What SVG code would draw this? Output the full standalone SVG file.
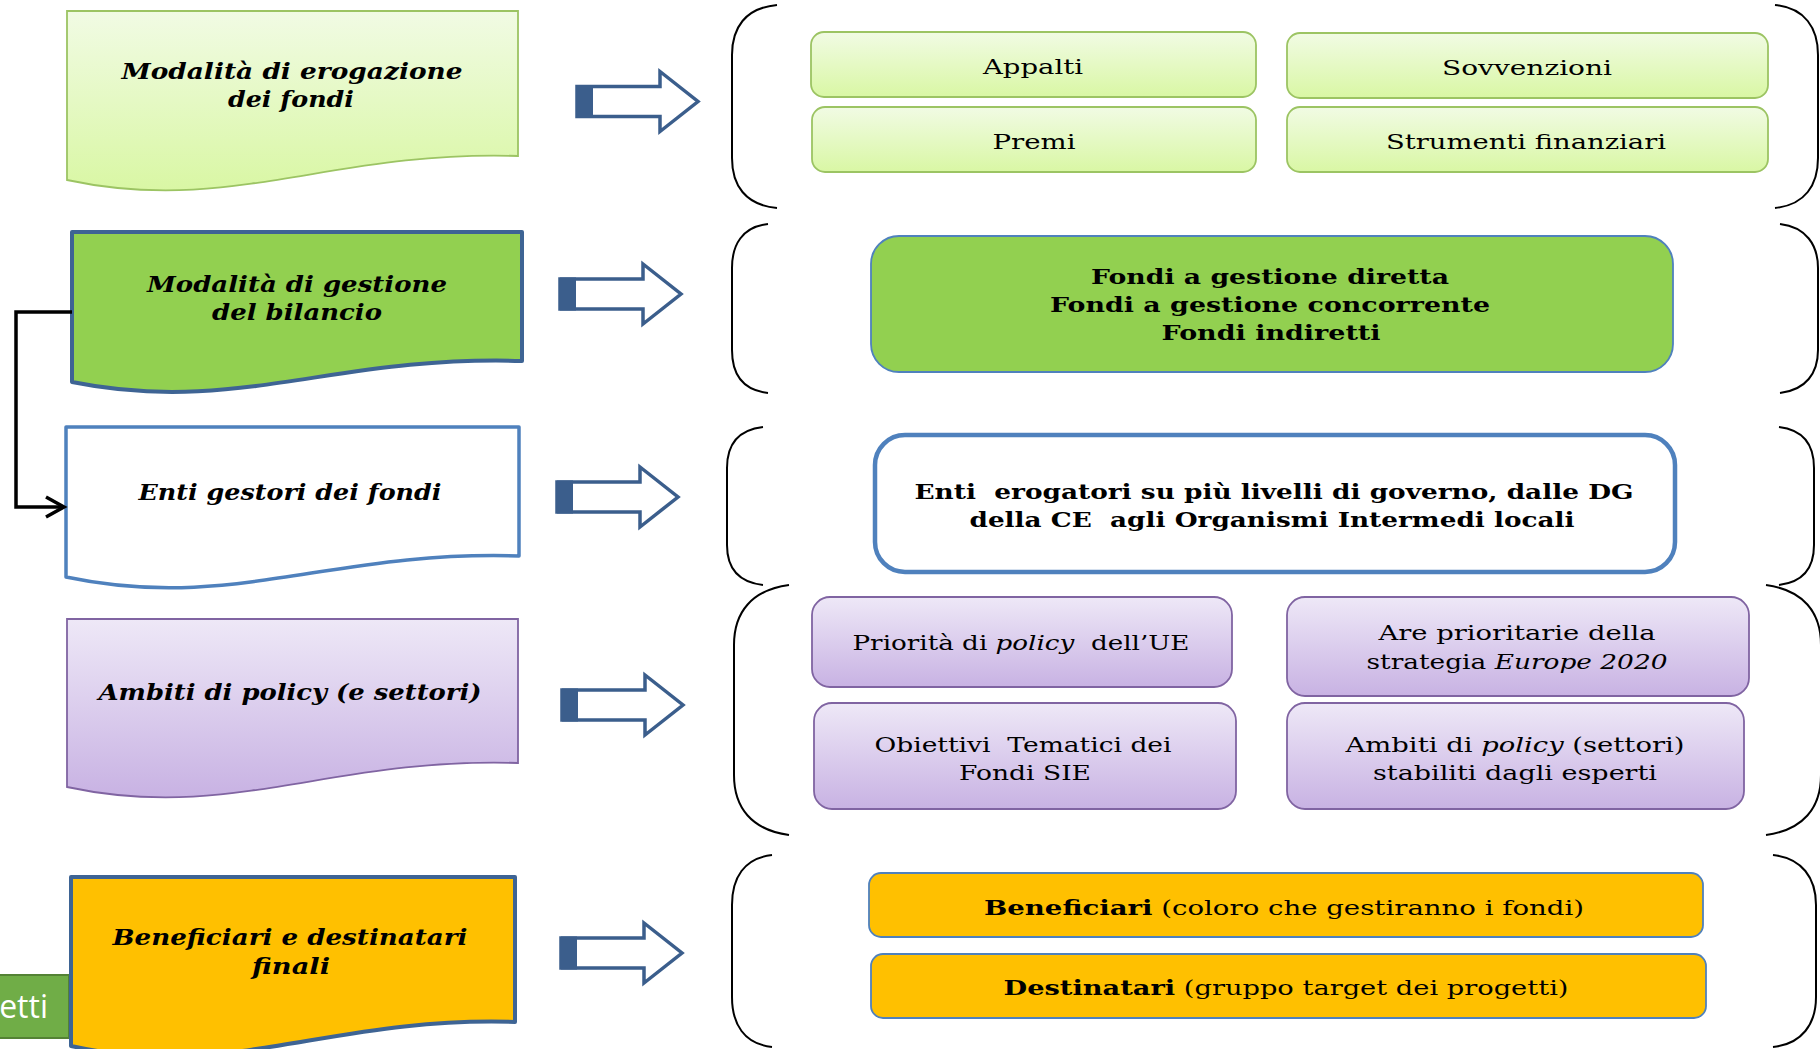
<svg xmlns="http://www.w3.org/2000/svg" xmlns:xlink="http://www.w3.org/1999/xlink" width="1820" height="1049" viewBox="0 0 1820 1049">
<defs>
<linearGradient id="gGreen" x1="0" y1="0" x2="0" y2="1"><stop offset="0" stop-color="#f1fbe4"/><stop offset="1" stop-color="#d9f7a4"/></linearGradient>
<linearGradient id="gPurple" x1="0" y1="0" x2="0" y2="1"><stop offset="0" stop-color="#eee8f7"/><stop offset="1" stop-color="#c8b2e3"/></linearGradient>
<g id="blk">
<polygon points="0,-15 83,-15 83,-30 121,0 83,30 83,15 0,15" fill="#ffffff" stroke="#3b5e8c" stroke-width="3.5" stroke-linejoin="miter"/>
<rect x="0" y="-16.5" width="16" height="33" fill="#3b5e8c"/>
</g>
</defs>
<style>
text{font-family:"DejaVu Serif","Liberation Serif",serif;fill:#000;white-space:pre}
.ln{font-size:22px;font-weight:bold;font-style:italic;text-anchor:middle}
.rt{font-size:21px;text-anchor:middle}
.bd{font-weight:bold}
.it{font-style:italic}
.br{fill:none;stroke:#000;stroke-width:2}
.gbox{fill:url(#gGreen);stroke:#9cc463;stroke-width:1.8}
.pbox{fill:url(#gPurple);stroke:#8064a2;stroke-width:1.8}
.obox{fill:#ffc000;stroke:#4f81bd;stroke-width:1.8}
</style>
<rect width="1820" height="1049" fill="#ffffff"/>

<!-- partial green box at bottom-left -->
<g id="node-progetti">
<rect x="-5" y="975" width="74" height="63" fill="#70ad47" stroke="#548235" stroke-width="2"/>
<text x="48" y="1018" style="font-family:'Open Sans','Liberation Sans',sans-serif;font-size:32px;fill:#ffffff;text-anchor:end">etti</text>
</g>

<!-- left nodes -->
<g id="node-erogazione">
<path d="M67,11 H518 V156 C330,150 230,215 67,180 Z" fill="url(#gGreen)" stroke="#9cc463" stroke-width="1.8"/>
<text class="ln" x="292" y="79" textLength="341" lengthAdjust="spacingAndGlyphs">Modalità di erogazione</text>
<text class="ln" x="291" y="107" textLength="126" lengthAdjust="spacingAndGlyphs">dei fondi</text>
</g>
<g id="node-gestione">
<path d="M72,232 H522 V361 C334,355 235,415 72,382 Z" fill="#92d050" stroke="#3e6494" stroke-width="4" stroke-linejoin="round"/>
<text class="ln" x="297" y="292" textLength="300" lengthAdjust="spacingAndGlyphs">Modalità di gestione</text>
<text class="ln" x="297" y="320" textLength="170" lengthAdjust="spacingAndGlyphs">del bilancio</text>
</g>
<g id="node-enti">
<path d="M66,427 H519 V556 C330,550 231,612 66,577 Z" fill="#ffffff" stroke="#4f81bd" stroke-width="3.5" stroke-linejoin="round"/>
<text class="ln" x="290" y="500" textLength="303" lengthAdjust="spacingAndGlyphs">Enti gestori dei fondi</text>
</g>
<g id="node-ambiti">
<path d="M67,619 H518 V763 C330,757 230,822 67,787 Z" fill="url(#gPurple)" stroke="#8064a2" stroke-width="1.8"/>
<text class="ln" x="290" y="700" textLength="383" lengthAdjust="spacingAndGlyphs">Ambiti di policy (e settori)</text>
</g>
<g id="node-beneficiari">
<path d="M71,877 H515 V1022 C330,1016 230,1081 71,1046 Z" fill="#ffc000" stroke="#3e6494" stroke-width="4" stroke-linejoin="round"/>
<text class="ln" x="290" y="945" textLength="355" lengthAdjust="spacingAndGlyphs">Beneficiari e destinatari</text>
<text class="ln" x="291" y="974" textLength="78" lengthAdjust="spacingAndGlyphs">finali</text>
</g>

<!-- connectors -->
<g id="connectors">
<path d="M72,312 H16 V507 H62" fill="none" stroke="#000" stroke-width="3.5"/>
<polyline points="46,497 64,507 46,517" fill="none" stroke="#000" stroke-width="3.5"/>
<use xlink:href="#blk" x="577" y="101.5"/>
<use xlink:href="#blk" x="560" y="294"/>
<use xlink:href="#blk" x="557" y="497"/>
<use xlink:href="#blk" x="562" y="705"/>
<use xlink:href="#blk" x="561" y="953"/>
</g>

<!-- brackets -->
<g id="brackets">
<path class="br" d="M777,5 C745,8 732,28 732,55 V158 C732,185 745,205 777,208"/>
<path class="br" d="M1775,5 C1805,8 1818,28 1818,55 V158 C1818,185 1805,205 1775,208"/>
<path class="br" d="M768,224 C742,227 732,245 732,268 V350 C732,373 742,390 768,393"/>
<path class="br" d="M1780,224 C1806,227 1818,245 1818,268 V350 C1818,373 1806,390 1780,393"/>
<path class="br" d="M763,427 C737,430 727,446 727,468 V545 C727,567 737,582 763,585"/>
<path class="br" d="M1779,427 C1804,430 1814,446 1814,468 V545 C1814,567 1804,582 1779,585"/>
<path class="br" d="M789,585 C752,590 734,612 734,645 V775 C734,808 752,830 789,835"/>
<path class="br" d="M1766,585 C1803,590 1821,612 1821,645 V775 C1821,808 1803,830 1766,835"/>
<path class="br" d="M772,855 C744,858 732,878 732,905 V997 C732,1024 744,1044 772,1047"/>
<path class="br" d="M1773,855 C1802,858 1816,878 1816,905 V997 C1816,1024 1802,1044 1773,1047"/>
</g>

<!-- right nodes -->
<g id="node-appalti">
<rect class="gbox" x="811" y="32" width="445" height="65" rx="13"/>
<text class="rt" x="1033" y="74" textLength="100" lengthAdjust="spacingAndGlyphs">Appalti</text>
</g>
<g id="node-sovvenzioni">
<rect class="gbox" x="1287" y="33" width="481" height="65" rx="13"/>
<text class="rt" x="1527" y="75" textLength="170" lengthAdjust="spacingAndGlyphs">Sovvenzioni</text>
</g>
<g id="node-premi">
<rect class="gbox" x="812" y="107" width="444" height="65" rx="13"/>
<text class="rt" x="1034" y="149" textLength="83" lengthAdjust="spacingAndGlyphs">Premi</text>
</g>
<g id="node-strumenti">
<rect class="gbox" x="1287" y="107" width="481" height="65" rx="13"/>
<text class="rt" x="1526" y="149" textLength="280" lengthAdjust="spacingAndGlyphs">Strumenti finanziari</text>
</g>
<g id="node-fondi">
<rect x="871" y="236" width="802" height="136" rx="28" fill="#92d050" stroke="#4f81bd" stroke-width="1.8"/>
<text class="rt bd" x="1270" y="284" textLength="358" lengthAdjust="spacingAndGlyphs">Fondi a gestione diretta</text>
<text class="rt bd" x="1270" y="312" textLength="440" lengthAdjust="spacingAndGlyphs">Fondi a gestione concorrente</text>
<text class="rt bd" x="1271" y="340" textLength="219" lengthAdjust="spacingAndGlyphs">Fondi indiretti</text>
</g>
<g id="node-erogatori">
<rect x="875" y="435" width="800" height="137" rx="30" fill="#ffffff" stroke="#4f81bd" stroke-width="4.5"/>
<text class="rt bd" x="1274" y="499" textLength="719" lengthAdjust="spacingAndGlyphs">Enti  erogatori su più livelli di governo, dalle DG</text>
<text class="rt bd" x="1272" y="527" textLength="605" lengthAdjust="spacingAndGlyphs">della CE  agli Organismi Intermedi locali</text>
</g>
<g id="node-priorita">
<rect class="pbox" x="812" y="597" width="420" height="90" rx="18"/>
<text class="rt" x="1021" y="650" textLength="337" lengthAdjust="spacingAndGlyphs">Priorità di <tspan class="it">policy</tspan>  dell’UE</text>
</g>
<g id="node-europe">
<rect class="pbox" x="1287" y="597" width="462" height="99" rx="18"/>
<text class="rt" x="1517" y="640" textLength="277" lengthAdjust="spacingAndGlyphs">Are prioritarie della</text>
<text class="rt" x="1517" y="669" textLength="301" lengthAdjust="spacingAndGlyphs">strategia <tspan class="it">Europe 2020</tspan></text>
</g>
<g id="node-obiettivi">
<rect class="pbox" x="814" y="703" width="422" height="106" rx="18"/>
<text class="rt" x="1023" y="752" textLength="297" lengthAdjust="spacingAndGlyphs">Obiettivi  Tematici dei</text>
<text class="rt" x="1025" y="780" textLength="132" lengthAdjust="spacingAndGlyphs">Fondi SIE</text>
</g>
<g id="node-settori">
<rect class="pbox" x="1287" y="703" width="457" height="106" rx="18"/>
<text class="rt" x="1515" y="752" textLength="339" lengthAdjust="spacingAndGlyphs">Ambiti di <tspan class="it">policy</tspan> (settori)</text>
<text class="rt" x="1515" y="780" textLength="284" lengthAdjust="spacingAndGlyphs">stabiliti dagli esperti</text>
</g>
<g id="node-benef">
<rect class="obox" x="869" y="873" width="834" height="64" rx="12"/>
<text class="rt" x="1284" y="915" textLength="600" lengthAdjust="spacingAndGlyphs"><tspan class="bd">Beneficiari</tspan> (coloro che gestiranno i fondi)</text>
</g>
<g id="node-destin">
<rect class="obox" x="871" y="954" width="835" height="64" rx="12"/>
<text class="rt" x="1286" y="995" textLength="565" lengthAdjust="spacingAndGlyphs"><tspan class="bd">Destinatari</tspan> (gruppo target dei progetti)</text>
</g>
</svg>
